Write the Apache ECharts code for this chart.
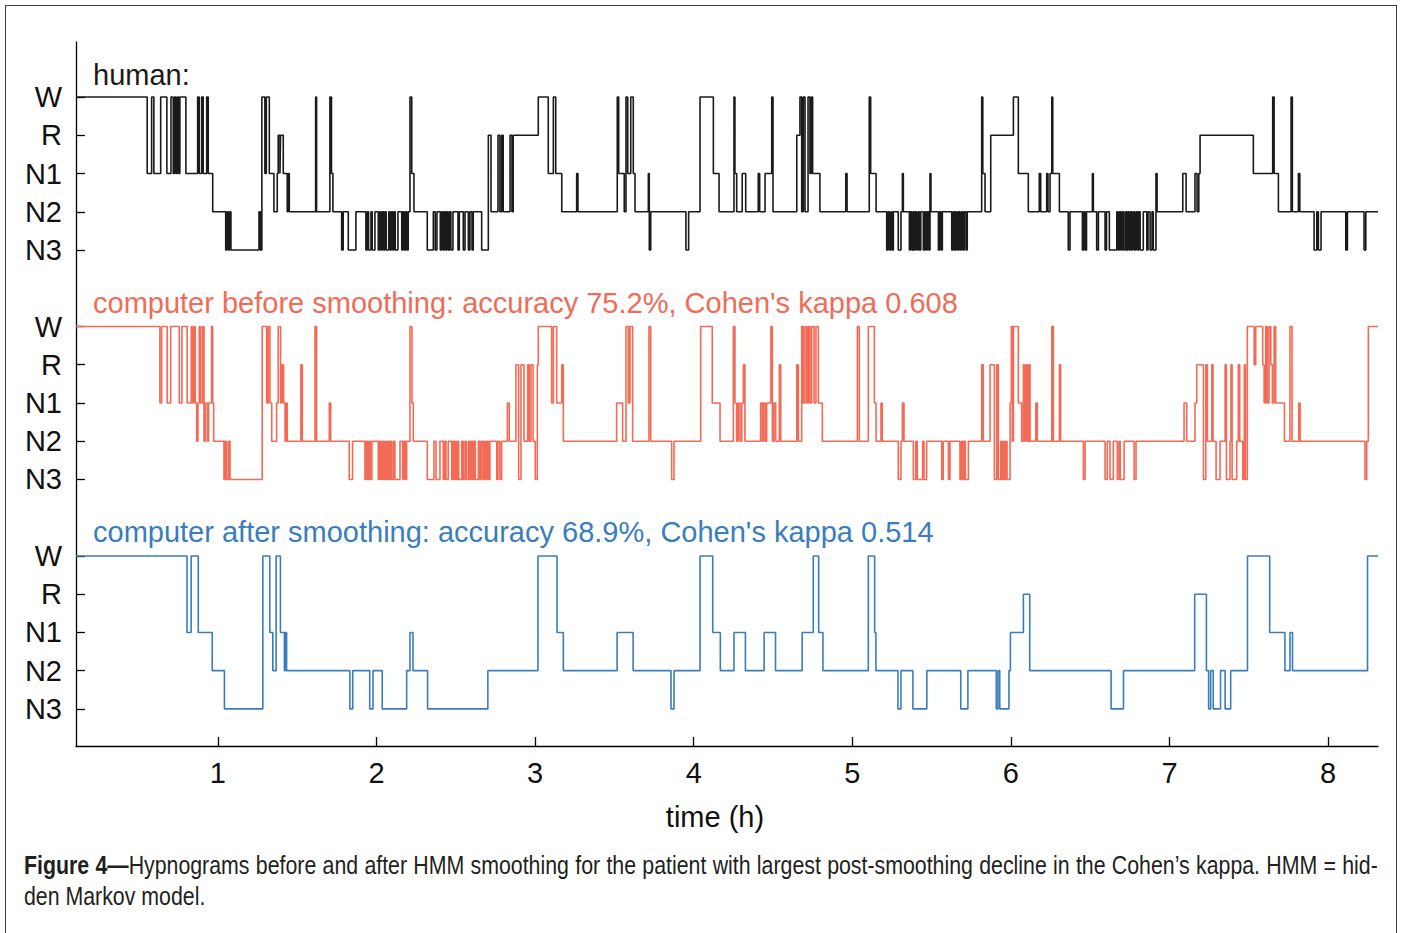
<!DOCTYPE html>
<html>
<head>
<meta charset="utf-8">
<script src="https://cdn.jsdelivr.net/npm/echarts@6/dist/echarts.min.js"></script>
<style>
  html, body { margin: 0; padding: 0; background: #fff; }
  #frame { position: absolute; left: 5px; top: 5px; width: 1392px; height: 980px;
           border: 1.5px solid #3c3c3c; box-sizing: border-box; pointer-events: none; }
  #chart { position: absolute; left: 0; top: 0; width: 1401px; height: 933px; }
  /* condensed caption: regular sans, horizontally compressed */
  #caption { position: absolute; left: 24px; top: 850px; width: 1651px;
             transform: scaleX(0.82); transform-origin: 0 0;
             font-family: "Liberation Sans", Arial, Helvetica, sans-serif;
             font-size: 26px; line-height: 31px; color: #231f20; }
  #caption .l1 { text-align: justify; text-align-last: justify; white-space: nowrap; }
  #caption b { font-weight: bold; }
</style>
</head>
<body>
<div id="chart"></div>
<div id="frame"></div>
<div id="caption">
  <div class="l1"><b>Figure 4—</b>Hypnograms before and after HMM smoothing for the patient with largest post-smoothing decline in the Cohen’s kappa. HMM = hid-</div>
  <div>den Markov model.</div>
</div>
<script>
// Sleep stages, bottom to top within each hypnogram band
const stageLabels = ['N3', 'N2', 'N1', 'R', 'W'];
// Vertical offset of each band (after smoothing at bottom, human scoring on top)
const bandOffsets = { human: 12, before: 6, after: 0 };
// Recording window (hours)
const recordStart = 0.105;
const recordEnd = 8.315;
const hourTicks = [1, 2, 3, 4, 5, 6, 7, 8];

// Each entry: [time in hours where the stage begins, stage]
const humanHypnogram = [
  [0.105,'W'],[0.554,'N1'],[0.582,'W'],[0.596,'N1'],[0.639,'W'],[0.678,'N1'],[0.704,'W'],[0.718,'N1'],[0.727,'W'],[0.735,'N1'],
  [0.743,'W'],[0.752,'N1'],[0.760,'W'],[0.798,'N1'],[0.872,'W'],[0.882,'N1'],[0.897,'W'],[0.907,'N1'],[0.929,'W'],[0.939,'N1'],
  [0.967,'N2'],[1.049,'N3'],[1.057,'N2'],[1.065,'N3'],[1.074,'N2'],[1.082,'N3'],[1.259,'N2'],[1.267,'N3'],[1.277,'W'],[1.296,'N1'],
  [1.305,'W'],[1.324,'N1'],[1.353,'N2'],[1.374,'N1'],[1.380,'R'],[1.391,'N1'],[1.395,'R'],[1.412,'N1'],[1.437,'N2'],[1.443,'N1'],
  [1.450,'N2'],[1.616,'W'],[1.622,'N2'],[1.706,'W'],[1.716,'N1'],[1.725,'N2'],[1.780,'N3'],[1.790,'N2'],[1.822,'N3'],[1.870,'N2'],
  [1.933,'N3'],[1.942,'N2'],[1.950,'N3'],[1.965,'N2'],[1.973,'N3'],[1.990,'N2'],[2.011,'N3'],[2.020,'N2'],[2.028,'N3'],[2.036,'N2'],
  [2.045,'N3'],[2.053,'N2'],[2.061,'N3'],[2.077,'N2'],[2.085,'N3'],[2.093,'N2'],[2.102,'N3'],[2.110,'N2'],[2.118,'N3'],[2.135,'N2'],
  [2.159,'N3'],[2.167,'N2'],[2.175,'N3'],[2.184,'N2'],[2.192,'N3'],[2.200,'N2'],[2.211,'W'],[2.222,'N1'],[2.236,'N2'],[2.320,'N3'],
  [2.358,'N2'],[2.370,'N3'],[2.381,'N2'],[2.402,'N3'],[2.411,'N2'],[2.419,'N3'],[2.427,'N2'],[2.436,'N3'],[2.444,'N2'],[2.452,'N3'],
  [2.461,'N2'],[2.469,'N3'],[2.482,'N2'],[2.514,'N3'],[2.522,'N2'],[2.547,'N3'],[2.558,'N2'],[2.579,'N3'],[2.589,'N2'],[2.602,'N3'],
  [2.610,'N2'],[2.663,'N3'],[2.705,'R'],[2.722,'N2'],[2.766,'R'],[2.778,'N2'],[2.789,'R'],[2.799,'N2'],[2.842,'R'],[2.854,'N2'],
  [2.862,'R'],[3.020,'W'],[3.083,'N1'],[3.115,'W'],[3.130,'N1'],[3.168,'N2'],[3.262,'N1'],[3.270,'N2'],[3.518,'W'],[3.527,'N1'],
  [3.562,'N2'],[3.573,'W'],[3.584,'N1'],[3.603,'W'],[3.619,'N1'],[3.630,'N2'],[3.714,'N1'],[3.720,'N3'],[3.729,'N2'],[3.951,'N3'],
  [3.968,'N2'],[4.040,'W'],[4.124,'N1'],[4.160,'N2'],[4.254,'W'],[4.260,'N1'],[4.271,'N2'],[4.306,'N1'],[4.328,'N2'],[4.407,'N1'],
  [4.416,'N2'],[4.450,'N1'],[4.492,'W'],[4.500,'N2'],[4.650,'R'],[4.670,'W'],[4.681,'N2'],[4.691,'W'],[4.702,'N2'],[4.721,'W'],
  [4.733,'N1'],[4.742,'W'],[4.750,'N1'],[4.796,'N2'],[4.959,'N1'],[4.967,'N2'],[5.107,'W'],[5.116,'N1'],[5.150,'N2'],[5.217,'N3'],
  [5.225,'N2'],[5.234,'N3'],[5.244,'N2'],[5.251,'N3'],[5.259,'N2'],[5.290,'N3'],[5.307,'N2'],[5.316,'N1'],[5.322,'N2'],[5.360,'N3'],
  [5.367,'N2'],[5.375,'N3'],[5.383,'N2'],[5.389,'N3'],[5.396,'N2'],[5.406,'N3'],[5.415,'N2'],[5.423,'N3'],[5.432,'N2'],[5.448,'N3'],
  [5.457,'N2'],[5.465,'N3'],[5.473,'N2'],[5.482,'N3'],[5.490,'N1'],[5.496,'N2'],[5.543,'N3'],[5.551,'N2'],[5.560,'N3'],[5.568,'N2'],
  [5.627,'N3'],[5.635,'N2'],[5.643,'N3'],[5.652,'N2'],[5.660,'N3'],[5.669,'N2'],[5.679,'N3'],[5.688,'N2'],[5.698,'N3'],[5.706,'N2'],
  [5.717,'N3'],[5.725,'N2'],[5.816,'W'],[5.823,'N1'],[5.837,'N2'],[5.873,'R'],[6.016,'W'],[6.047,'N1'],[6.110,'N2'],[6.179,'N1'],
  [6.188,'N2'],[6.226,'N1'],[6.234,'N2'],[6.247,'N1'],[6.258,'W'],[6.264,'N1'],[6.306,'N2'],[6.362,'N3'],[6.373,'N2'],[6.451,'N3'],
  [6.459,'N2'],[6.468,'N3'],[6.477,'N2'],[6.514,'N1'],[6.520,'N2'],[6.541,'N3'],[6.552,'N2'],[6.594,'N3'],[6.603,'N2'],[6.621,'N3'],
  [6.668,'N2'],[6.676,'N3'],[6.684,'N2'],[6.693,'N3'],[6.701,'N2'],[6.709,'N3'],[6.720,'N2'],[6.728,'N3'],[6.737,'N2'],[6.745,'N3'],
  [6.753,'N2'],[6.762,'N3'],[6.770,'N2'],[6.779,'N3'],[6.789,'N2'],[6.798,'N3'],[6.806,'N2'],[6.815,'N3'],[6.835,'N2'],[6.857,'N3'],
  [6.865,'N2'],[6.878,'N3'],[6.890,'N2'],[6.898,'N3'],[6.915,'N1'],[6.922,'N2'],[7.084,'N1'],[7.105,'N2'],[7.161,'N1'],[7.174,'N2'],
  [7.185,'N1'],[7.193,'R'],[7.529,'N1'],[7.651,'W'],[7.660,'N1'],[7.687,'N2'],[7.767,'W'],[7.775,'N2'],[7.813,'N1'],[7.822,'N2'],
  [7.912,'N3'],[7.929,'N2'],[7.939,'N3'],[7.956,'N2'],[8.112,'N3'],[8.122,'N2'],[8.227,'N3'],[8.238,'N2']
];

const beforeSmoothing = [
  [0.105,'W'],[0.634,'N1'],[0.645,'W'],[0.680,'N1'],[0.702,'W'],[0.756,'N1'],[0.773,'W'],[0.806,'N1'],[0.832,'W'],[0.840,'N1'],
  [0.849,'W'],[0.857,'N1'],[0.866,'N2'],[0.874,'N1'],[0.882,'W'],[0.891,'N1'],[0.904,'W'],[0.912,'N2'],[0.920,'N1'],[0.933,'N2'],
  [0.941,'N1'],[0.960,'W'],[0.967,'N1'],[0.973,'N2'],[1.038,'N3'],[1.046,'N2'],[1.055,'N3'],[1.067,'N2'],[1.076,'N3'],[1.279,'W'],
  [1.307,'N1'],[1.317,'W'],[1.328,'N1'],[1.339,'N2'],[1.370,'N1'],[1.380,'W'],[1.395,'N1'],[1.405,'R'],[1.414,'N1'],[1.423,'N2'],
  [1.429,'N1'],[1.437,'N2'],[1.523,'R'],[1.532,'N2'],[1.612,'W'],[1.622,'N2'],[1.702,'N1'],[1.711,'N2'],[1.828,'N3'],[1.849,'N2'],
  [1.927,'N3'],[1.935,'N2'],[1.944,'N3'],[1.952,'N2'],[1.960,'N3'],[1.971,'N2'],[2.011,'N3'],[2.020,'N2'],[2.028,'N3'],[2.036,'N2'],
  [2.045,'N3'],[2.053,'N2'],[2.061,'N3'],[2.070,'N2'],[2.078,'N3'],[2.087,'N2'],[2.095,'N3'],[2.106,'N2'],[2.116,'N3'],[2.148,'N2'],
  [2.165,'N3'],[2.173,'N2'],[2.181,'N3'],[2.190,'N2'],[2.211,'W'],[2.223,'N1'],[2.232,'N2'],[2.320,'N3'],[2.362,'N2'],[2.375,'N3'],
  [2.400,'N2'],[2.421,'N3'],[2.430,'N2'],[2.438,'N3'],[2.452,'N2'],[2.474,'N3'],[2.482,'N2'],[2.488,'N3'],[2.497,'N2'],[2.503,'N3'],
  [2.512,'N2'],[2.518,'N3'],[2.537,'N2'],[2.547,'N3'],[2.558,'N2'],[2.566,'N3'],[2.579,'N2'],[2.589,'N3'],[2.597,'N2'],[2.606,'N3'],
  [2.614,'N2'],[2.623,'N3'],[2.642,'N2'],[2.652,'N3'],[2.660,'N2'],[2.671,'N3'],[2.679,'N2'],[2.686,'N3'],[2.695,'N2'],[2.705,'N3'],
  [2.715,'N2'],[2.758,'N3'],[2.766,'N2'],[2.778,'N3'],[2.789,'N2'],[2.825,'N1'],[2.837,'N2'],[2.879,'R'],[2.896,'N3'],[2.911,'R'],
  [2.930,'N2'],[2.953,'R'],[2.963,'N2'],[2.974,'R'],[2.987,'N2'],[3.001,'N3'],[3.014,'R'],[3.020,'W'],[3.104,'N1'],[3.115,'W'],
  [3.136,'N1'],[3.168,'R'],[3.178,'N2'],[3.514,'N1'],[3.552,'N2'],[3.573,'W'],[3.588,'N1'],[3.598,'W'],[3.615,'N2'],[3.718,'W'],
  [3.729,'N2'],[3.861,'N3'],[3.876,'N2'],[4.044,'W'],[4.117,'N1'],[4.166,'N2'],[4.250,'W'],[4.260,'N1'],[4.271,'N2'],[4.281,'N1'],
  [4.292,'N2'],[4.303,'N1'],[4.313,'R'],[4.323,'N2'],[4.422,'N1'],[4.433,'N2'],[4.439,'N1'],[4.450,'N2'],[4.460,'N1'],[4.487,'W'],
  [4.496,'N2'],[4.506,'N1'],[4.517,'N2'],[4.540,'R'],[4.549,'N2'],[4.650,'R'],[4.660,'N2'],[4.681,'W'],[4.691,'N1'],[4.702,'W'],
  [4.713,'N1'],[4.723,'W'],[4.733,'N1'],[4.744,'W'],[4.759,'N1'],[4.771,'W'],[4.786,'N1'],[4.811,'N2'],[5.032,'W'],[5.044,'N2'],
  [5.101,'W'],[5.139,'N1'],[5.150,'N2'],[5.181,'N1'],[5.189,'N2'],[5.290,'N3'],[5.307,'N2'],[5.316,'N1'],[5.326,'N2'],[5.385,'N3'],
  [5.400,'N2'],[5.410,'N3'],[5.444,'N2'],[5.452,'N3'],[5.469,'N2'],[5.564,'N3'],[5.574,'N2'],[5.606,'N3'],[5.616,'N2'],[5.679,'N3'],
  [5.688,'N2'],[5.696,'N3'],[5.705,'N2'],[5.713,'N3'],[5.732,'N2'],[5.816,'R'],[5.826,'N2'],[5.869,'R'],[5.896,'N3'],[5.911,'R'],
  [5.921,'N3'],[5.936,'N2'],[5.942,'N3'],[5.951,'N2'],[5.959,'N3'],[5.968,'N2'],[5.976,'N3'],[5.995,'N1'],[6.003,'W'],[6.009,'N2'],
  [6.016,'W'],[6.047,'N1'],[6.068,'N2'],[6.079,'R'],[6.089,'N2'],[6.098,'R'],[6.108,'N2'],[6.116,'R'],[6.121,'N2'],[6.157,'N1'],
  [6.167,'N2'],[6.258,'W'],[6.268,'N2'],[6.306,'R'],[6.314,'N2'],[6.457,'N3'],[6.468,'N2'],[6.594,'N3'],[6.608,'N2'],[6.625,'N3'],
  [6.646,'N2'],[6.671,'N3'],[6.682,'N2'],[6.690,'N3'],[6.714,'N2'],[6.777,'N3'],[6.789,'N2'],[7.092,'N1'],[7.109,'N2'],[7.161,'N1'],
  [7.172,'R'],[7.214,'N3'],[7.229,'R'],[7.239,'N2'],[7.267,'R'],[7.275,'N2'],[7.294,'N3'],[7.319,'N2'],[7.351,'R'],[7.359,'N3'],
  [7.382,'N2'],[7.388,'R'],[7.395,'N3'],[7.424,'N2'],[7.434,'R'],[7.443,'N2'],[7.462,'N3'],[7.472,'R'],[7.479,'N3'],[7.491,'W'],
  [7.534,'R'],[7.544,'W'],[7.588,'R'],[7.597,'N1'],[7.607,'W'],[7.617,'N1'],[7.628,'W'],[7.639,'R'],[7.649,'N1'],[7.660,'W'],
  [7.670,'N1'],[7.725,'N2'],[7.760,'W'],[7.773,'N2'],[7.815,'N1'],[7.824,'N2'],[8.233,'N3'],[8.244,'N2'],[8.254,'W']
];

const afterSmoothing = [
  [0.105,'W'],[0.805,'N1'],[0.831,'W'],[0.876,'N1'],[0.964,'N2'],[1.041,'N3'],[1.283,'W'],[1.327,'N1'],[1.346,'N2'],[1.367,'W'],
  [1.394,'N1'],[1.419,'N2'],[1.426,'N1'],[1.433,'N2'],[1.832,'N3'],[1.850,'N2'],[1.957,'N3'],[1.978,'N2'],[2.036,'N3'],[2.190,'N2'],
  [2.211,'N1'],[2.230,'N2'],[2.322,'N3'],[2.702,'N2'],[3.018,'W'],[3.138,'N1'],[3.178,'N2'],[3.517,'N1'],[3.618,'N2'],[3.857,'N3'],
  [3.876,'N2'],[4.040,'W'],[4.120,'N1'],[4.168,'N2'],[4.254,'N1'],[4.326,'N2'],[4.444,'N1'],[4.516,'N2'],[4.684,'N1'],[4.754,'W'],
  [4.788,'N1'],[4.815,'N2'],[5.101,'W'],[5.141,'N1'],[5.149,'N2'],[5.288,'N3'],[5.307,'N2'],[5.382,'N3'],[5.470,'N2'],[5.684,'N3'],
  [5.729,'N2'],[5.908,'N3'],[5.919,'N2'],[5.930,'N3'],[5.988,'N2'],[5.997,'N1'],[6.079,'R'],[6.119,'N2'],[6.632,'N3'],[6.710,'N2'],
  [7.159,'R'],[7.233,'N2'],[7.247,'N3'],[7.260,'N2'],[7.276,'N3'],[7.322,'N2'],[7.351,'N3'],[7.386,'N2'],[7.492,'W'],[7.632,'N1'],
  [7.728,'N2'],[7.760,'N1'],[7.776,'N2'],[8.249,'W']
];

const humanLabel = 'human:';
const beforeLabel = "computer before smoothing: accuracy 75.2%, Cohen's kappa 0.608";
const afterLabel = "computer after smoothing: accuracy 68.9%, Cohen's kappa 0.514";

const FONT = '"Liberation Sans", Arial, Helvetica, sans-serif';
const FONT_SIZE = 29;
const COLORS = { human: '#1a1a1a', before: '#f26b57', after: '#3a7dbd' };

// Convert a hypnogram into step-line points in the stacked band
function toSteps(hyp, offset) {
  const pts = hyp.map(([t, s]) => [t, offset + stageLabels.indexOf(s)]);
  pts.push([recordEnd, pts[pts.length - 1][1]]);
  return pts;
}

const stageTicks = [];
[bandOffsets.after, bandOffsets.before, bandOffsets.human].forEach(o => {
  for (let i = 0; i < stageLabels.length; i++) stageTicks.push(o + i);
});

const chart = echarts.init(document.getElementById('chart'), null, { renderer: 'svg' });

function stepSeries(name, hyp, offset, color) {
  return {
    name, type: 'line', step: 'end', data: toSteps(hyp, offset),
    showSymbol: false, symbol: 'none', animation: false, silent: true,
    lineStyle: { color, width: 1.6 }, z: 3
  };
}

chart.setOption({
  animation: false,
  backgroundColor: '#fff',
  grid: { left: 76, right: 23, top: 42, bottom: 187, containLabel: false },
  xAxis: {
    type: 'value', min: recordStart, max: recordEnd,
    axisLine: { show: true, onZero: false, lineStyle: { color: '#000', width: 1.3 } },
    axisTick: { show: true, inside: true, length: 9, customValues: hourTicks, lineStyle: { color: '#000', width: 1.3 } },
    axisLabel: { customValues: hourTicks, fontSize: FONT_SIZE, color: '#111', margin: 12, fontFamily: FONT },
    splitLine: { show: false },
    name: 'time (h)', nameLocation: 'middle', nameGap: 56,
    nameTextStyle: { fontSize: FONT_SIZE, color: '#111', fontFamily: FONT, padding: [0, 24, 0, 0] }
  },
  yAxis: {
    type: 'value', min: -0.97, max: 17.44,
    axisLine: { show: true, onZero: false, lineStyle: { color: '#000', width: 1.3 } },
    axisTick: { show: true, inside: true, length: 9, customValues: stageTicks, lineStyle: { color: '#000', width: 1.3 } },
    axisLabel: {
      customValues: stageTicks, fontSize: FONT_SIZE, color: '#111', margin: 14, fontFamily: FONT,
      formatter: v => stageLabels[Math.round(v) % 6]
    },
    splitLine: { show: false }
  },
  series: [
    stepSeries('human', humanHypnogram, bandOffsets.human, COLORS.human),
    stepSeries('before', beforeSmoothing, bandOffsets.before, COLORS.before),
    stepSeries('after', afterSmoothing, bandOffsets.after, COLORS.after)
  ],
  graphic: [
    { type: 'text', left: 93, top: 60, z: 10,
      style: { text: humanLabel, fill: COLORS.human, font: FONT_SIZE + 'px ' + FONT } },
    { type: 'text', left: 93, top: 288, z: 10,
      style: { text: beforeLabel, fill: COLORS.before, font: FONT_SIZE + 'px ' + FONT } },
    { type: 'text', left: 93, top: 517, z: 10,
      style: { text: afterLabel, fill: COLORS.after, font: FONT_SIZE + 'px ' + FONT } }
  ]
});
</script>
</body>
</html>
